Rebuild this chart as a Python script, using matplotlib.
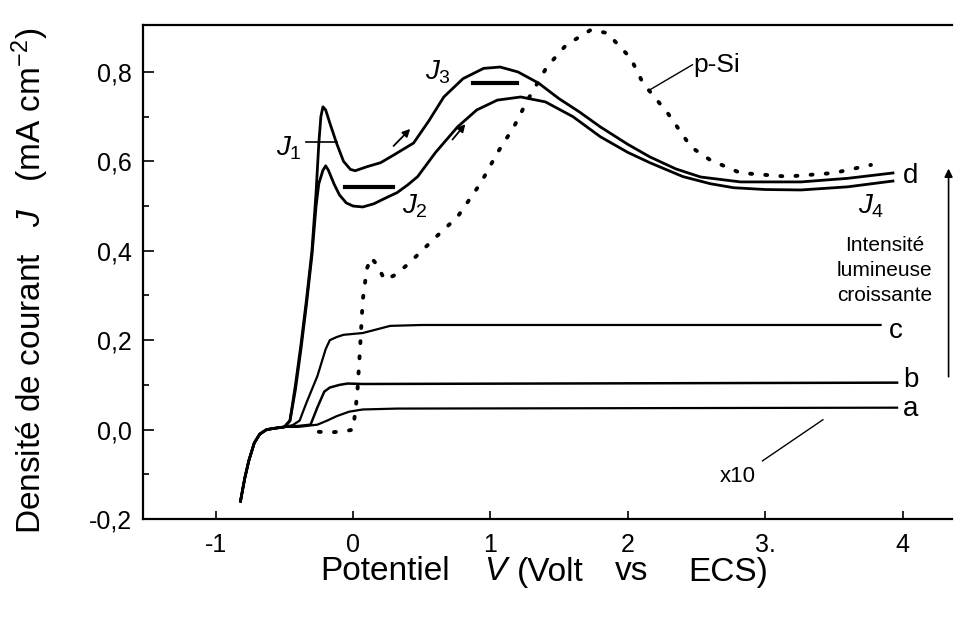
import matplotlib
matplotlib.use("Agg")
import matplotlib.pyplot as plt
from matplotlib.ticker import FixedLocator

plt.rcParams['font.family'] = ['Liberation Sans', 'DejaVu Sans']
plt.rcParams['mathtext.fontset'] = 'custom'
plt.rcParams['mathtext.rm'] = 'Liberation Sans'
plt.rcParams['mathtext.it'] = 'Liberation Sans:italic'

# ---------------- data ----------------
d_up_x = [-0.82, -0.79, -0.76, -0.72, -0.68, -0.63, -0.57, -0.50, -0.46, -0.42, -0.38, -0.34,
          -0.30, -0.27, -0.25, -0.235, -0.22, -0.20, -0.17, -0.12, -0.07, -0.02, 0.015, 0.10,
          0.20, 0.30, 0.44, 0.55, 0.66, 0.80, 0.95, 1.07, 1.20, 1.35, 1.50, 1.65, 1.80, 2.00,
          2.16, 2.35, 2.53, 2.82, 3.26, 3.60, 3.93]
d_up_y = [-0.16, -0.11, -0.07, -0.03, -0.01, 0.0, 0.003, 0.006, 0.02, 0.10, 0.19, 0.29,
          0.40, 0.53, 0.64, 0.70, 0.722, 0.715, 0.686, 0.64, 0.60, 0.582, 0.579, 0.588,
          0.597, 0.615, 0.641, 0.69, 0.744, 0.785, 0.808, 0.811, 0.80, 0.775, 0.74, 0.71, 0.677, 0.638,
          0.61, 0.583, 0.565, 0.554, 0.554, 0.562, 0.574]

d_lo_x = [-0.82, -0.79, -0.76, -0.72, -0.68, -0.63, -0.57, -0.50, -0.46, -0.42, -0.38, -0.34,
          -0.30, -0.27, -0.25, -0.22, -0.20, -0.18, -0.14, -0.10, -0.05, 0.0, 0.07, 0.15,
          0.25, 0.32, 0.40, 0.47, 0.60, 0.76, 0.90, 1.05, 1.22, 1.40, 1.60, 1.80, 2.00, 2.16,
          2.40, 2.60, 2.77, 3.00, 3.26, 3.60, 3.93]
d_lo_y = [-0.16, -0.11, -0.07, -0.03, -0.01, 0.0, 0.003, 0.006, 0.02, 0.09, 0.18, 0.28,
          0.39, 0.50, 0.55, 0.58, 0.59, 0.58, 0.55, 0.525, 0.507, 0.50, 0.498, 0.505,
          0.52, 0.53, 0.548, 0.566, 0.62, 0.677, 0.715, 0.737, 0.744, 0.733, 0.70, 0.655, 0.62, 0.597,
          0.566, 0.55, 0.541, 0.537, 0.536, 0.543, 0.556]

c_x = [-0.82, -0.79, -0.76, -0.72, -0.68, -0.63, -0.57, -0.50, -0.44, -0.39, -0.34, -0.26,
       -0.20, -0.17, -0.12, -0.07, 0.07, 0.17, 0.27, 0.50, 3.84]
c_y = [-0.16, -0.11, -0.07, -0.03, -0.01, 0.0, 0.003, 0.006, 0.01, 0.02, 0.06, 0.12,
       0.18, 0.20, 0.207, 0.212, 0.216, 0.224, 0.232, 0.234, 0.234]

b_x = [-0.82, -0.79, -0.76, -0.72, -0.68, -0.63, -0.57, -0.50, -0.40, -0.31, -0.26, -0.21,
       -0.17, -0.10, -0.04, 0.07, 3.96]
b_y = [-0.16, -0.11, -0.07, -0.03, -0.01, 0.0, 0.003, 0.006, 0.008, 0.011, 0.05, 0.085,
       0.094, 0.10, 0.103, 0.102, 0.105]

a_x = [-0.82, -0.79, -0.76, -0.72, -0.68, -0.63, -0.57, -0.50, -0.40, -0.26, -0.19, -0.12,
       -0.03, 0.07, 0.32, 3.96]
a_y = [-0.16, -0.11, -0.07, -0.03, -0.01, 0.0, 0.003, 0.006, 0.006, 0.011, 0.02, 0.03,
       0.04, 0.045, 0.047, 0.049]

psi_x = [-0.25, -0.15, -0.05, 0.0, 0.03, 0.05, 0.07, 0.10, 0.13, 0.17, 0.23, 0.30, 0.40,
         0.50, 0.60, 0.76, 0.93, 1.05, 1.17, 1.27, 1.41, 1.55, 1.73, 1.85, 2.02, 2.11, 2.29,
         2.46, 2.60, 2.82, 3.16, 3.50, 3.77]
psi_y = [-0.005, -0.006, -0.003, 0.0, 0.08, 0.18, 0.29, 0.36, 0.385, 0.37, 0.335, 0.345, 0.37,
         0.40, 0.43, 0.476, 0.552, 0.619, 0.677, 0.737, 0.811, 0.86, 0.894, 0.887, 0.831, 0.775, 0.708,
         0.632, 0.603, 0.574, 0.566, 0.574, 0.592]

x_ticks = [-1, 0, 1, 2, 3, 4]
x_tick_labels = ["-1", "0", "1", "2", "3.", "4"]
y_ticks = [-0.2, 0.0, 0.2, 0.4, 0.6, 0.8]
y_tick_labels = ["-0,2", "0,0", "0,2", "0,4", "0,6", "0,8"]
y_minor_ticks = [-0.1, 0.1, 0.3, 0.5, 0.7]

W, H = 955, 617

# ---------------- figure ----------------
fig = plt.figure(figsize=(W / 100, H / 100), dpi=100)
ax = fig.add_axes([143 / W, 1 - 519 / H, (952 - 143) / W, (519 - 25) / H])
ax.set_xlim(-1.53, 4.36)
ax.set_ylim(-0.2, 0.905)

lw = 2.0
ax.plot(d_up_x, d_up_y, color='black', lw=lw)
ax.plot(d_lo_x, d_lo_y, color='black', lw=lw)
ax.plot(c_x, c_y, color='black', lw=1.6)
ax.plot(b_x, b_y, color='black', lw=1.8)
ax.plot(a_x, a_y, color='black', lw=1.6)
ax.plot(psi_x, psi_y, color='black', lw=2.8, linestyle=(0, (0.5, 3.4)), dash_capstyle='round')

# J markers
ax.plot([-0.34, -0.12], [0.644, 0.644], color='black', lw=1.2)
ax.plot([-0.06, 0.29], [0.543, 0.543], color='black', lw=3.0)
ax.plot([0.87, 1.19], [0.775, 0.775], color='black', lw=3.0)

fs_lab = 20
ax.text(-0.47, 0.63, r'$J_1$', fontsize=fs_lab, ha='center', va='center')
ax.text(0.45, 0.50, r'$J_2$', fontsize=fs_lab, ha='center', va='center')
ax.text(0.62, 0.80, r'$J_3$', fontsize=fs_lab, ha='center', va='center')
ax.text(3.77, 0.50, r'$J_4$', fontsize=fs_lab, ha='center', va='center')

# scan direction arrows
arr = dict(arrowstyle='-|>', color='black', lw=1.3, mutation_scale=11)
ax.annotate('', xy=(0.43, 0.677), xytext=(0.28, 0.63), arrowprops=arr)
ax.annotate('', xy=(0.83, 0.688), xytext=(0.71, 0.644), arrowprops=arr)

# curve labels
ax.text(4.06, 0.568, 'd', fontsize=fs_lab, ha='center', va='center')
ax.text(3.95, 0.221, 'c', fontsize=fs_lab, ha='center', va='center')
ax.text(4.06, 0.112, 'b', fontsize=fs_lab, ha='center', va='center')
ax.text(4.06, 0.045, 'a', fontsize=fs_lab, ha='center', va='center')

# p-Si label with leader
ax.plot([2.16, 2.47], [0.76, 0.816], color='black', lw=1.0)
ax.text(2.48, 0.815, 'p-Si', fontsize=19, ha='left', va='center')

# x10 label with leader
ax.plot([2.98, 3.42], [-0.07, 0.022], color='black', lw=1.0)
ax.text(2.80, -0.105, 'x10', fontsize=16, ha='center', va='center')

# light intensity arrow and text
ax.annotate('', xy=(4.335, 0.59), xytext=(4.335, 0.112),
            arrowprops=dict(arrowstyle='-|>', color='black', lw=1.2, mutation_scale=12),
            annotation_clip=False)
ax.text(3.87, 0.355, 'Intensité\nlumineuse\ncroissante', fontsize=15, ha='center', va='center',
        linespacing=1.4)

# axes styling
ax.spines['right'].set_visible(False)
for s in ['left', 'bottom', 'top']:
    ax.spines[s].set_linewidth(1.6)

ax.xaxis.set_major_locator(FixedLocator(x_ticks))
ax.set_xticklabels(x_tick_labels)
ax.yaxis.set_major_locator(FixedLocator(y_ticks))
ax.set_yticklabels(y_tick_labels)
ax.yaxis.set_minor_locator(FixedLocator(y_minor_ticks))
ax.tick_params(axis='both', which='major', direction='in', labelsize=18, width=1.2)
ax.tick_params(axis='y', which='major', length=8, pad=8)
ax.tick_params(axis='y', which='minor', direction='in', length=4, width=1.2)
ax.tick_params(axis='x', which='major', length=6, pad=10)
ax.tick_params(top=False, right=False)

# x axis title, word by word
xl_y = 1 - 572 / H
for txt, px in [('Potentiel', 320), (r'$\mathit{V}$', 484), ('(Volt', 517), ('vs', 615), ('ECS)', 688)]:
    fig.text(px / W, xl_y, txt, fontsize=24, ha='left', va='center')

# y axis title
fig.text(30 / W, 1 - 281 / H, r'Densité de courant   $\mathit{J}$   (mA cm$^{-2}$)', fontsize=24,
         rotation=90, ha='center', va='center')

fig.savefig('out.png', dpi=100)
